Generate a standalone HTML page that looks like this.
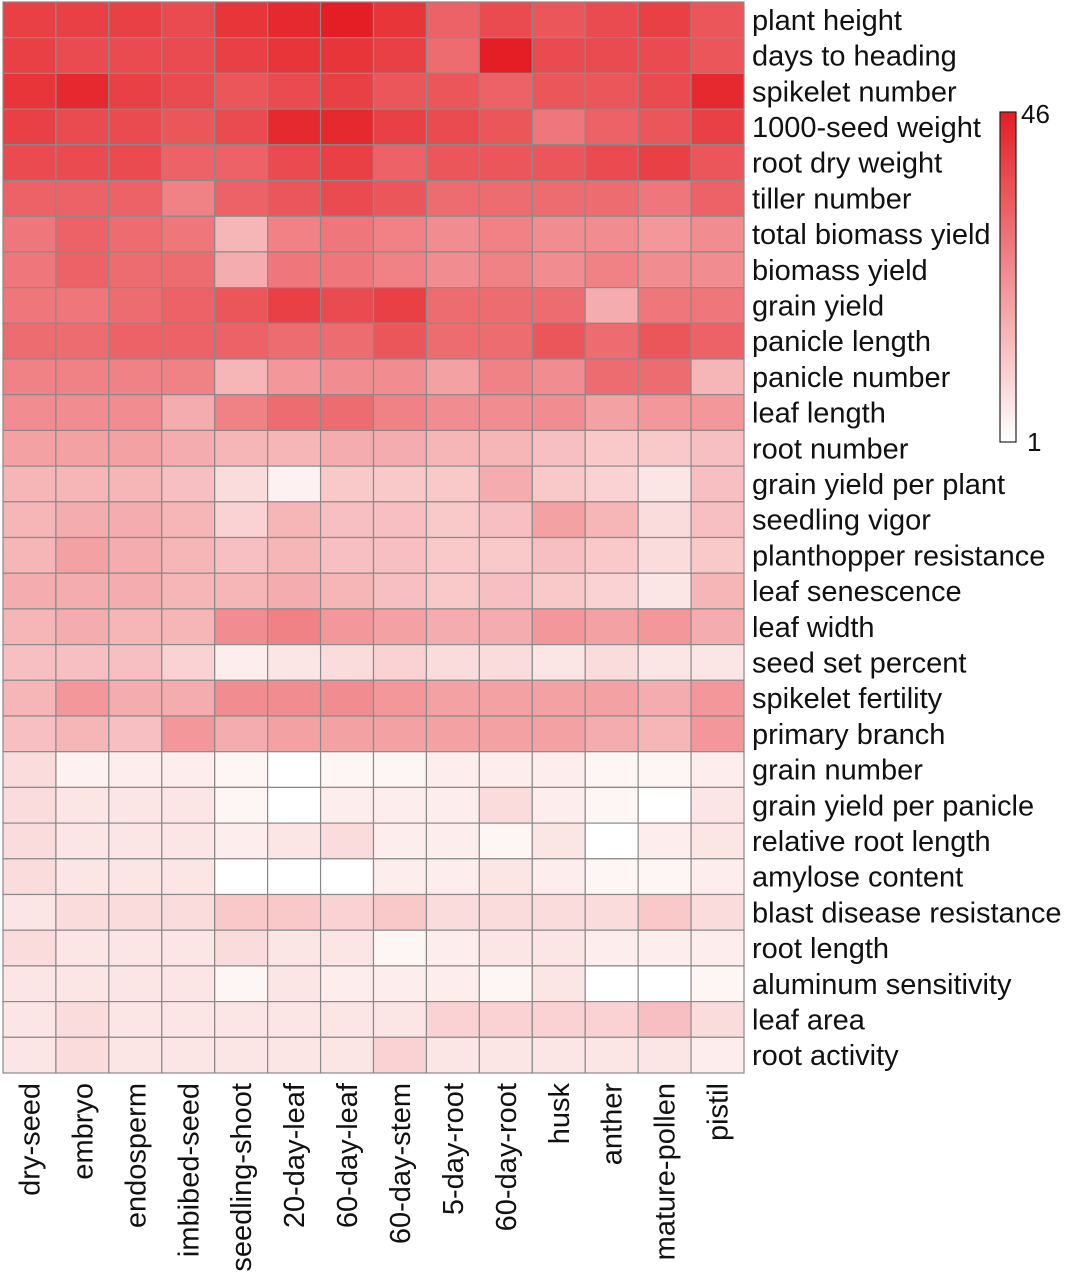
<!DOCTYPE html>
<html><head><meta charset="utf-8"><style>
html,body{margin:0;padding:0;background:#fff}
svg{display:block;font-family:"Liberation Sans",Arial,sans-serif}
</style></head><body>
<svg id="chart" width="1073" height="1280" viewBox="0 0 1073 1280" xmlns="http://www.w3.org/2000/svg">
<defs><linearGradient id="cb" x1="0" y1="1" x2="0" y2="0"><stop offset="0" stop-color="#ffffff"/><stop offset="1" stop-color="#e41e24"/></linearGradient></defs>
<g id="cells"></g>
<g id="rowlabels"></g>
<g id="collabels"></g>
<g>
<rect x="1000" y="112" width="16" height="330" fill="url(#cb)" stroke="#222" stroke-width="1.2"/>
<text x="1021" y="123" font-size="26" fill="#111">46</text>
<text x="1027" y="451" font-size="26" fill="#111">1</text>
</g>
</svg>
<script>
const columns=["dry-seed","embryo","endosperm","imbibed-seed","seedling-shoot","20-day-leaf","60-day-leaf","60-day-stem","5-day-root","60-day-root","husk","anther","mature-pollen","pistil"];
const rows=["plant height","days to heading","spikelet number","1000-seed weight","root dry weight","tiller number","total biomass yield","biomass yield","grain yield","panicle length","panicle number","leaf length","root number","grain yield per plant","seedling vigor","planthopper resistance","leaf senescence","leaf width","seed set percent","spikelet fertility","primary branch","grain number","grain yield per panicle","relative root length","amylose content","blast disease resistance","root length","aluminum sensitivity","leaf area","root activity"];
const vmin=1, vmax=46;
const values=[
[40,40,40,38,42,44,46,42,34,38,36,38,40,36],
[40,38,38,38,40,42,42,40,32,46,38,38,38,36],
[42,44,40,38,36,38,40,36,36,34,36,36,38,44],
[40,38,38,36,38,44,44,40,38,36,30,34,36,40],
[38,38,38,34,34,38,40,34,36,36,36,38,40,36],
[34,34,34,28,34,36,38,36,32,32,32,32,30,34],
[30,34,32,30,18,28,30,28,26,28,26,26,24,26],
[30,34,32,32,20,30,30,28,26,28,26,28,26,26],
[30,30,32,34,36,40,38,40,32,32,32,20,30,30],
[32,32,34,34,34,32,32,36,32,32,36,32,36,34],
[28,28,28,28,18,24,26,26,22,28,26,32,32,18],
[26,26,26,20,28,32,32,28,26,26,26,22,24,24],
[22,22,22,20,18,18,20,20,18,18,16,14,14,16],
[18,18,18,16,10,5,14,14,14,20,14,12,8,16],
[18,20,20,18,12,18,16,16,14,16,22,18,10,16],
[18,22,20,18,16,18,16,16,14,14,16,14,10,14],
[20,20,20,18,18,20,18,16,14,16,14,12,8,18],
[18,20,18,18,26,28,24,22,20,20,24,22,24,20],
[16,16,16,12,6,8,10,12,10,10,8,10,8,8],
[18,24,20,20,26,26,26,24,22,22,22,22,20,24],
[16,18,16,24,20,22,22,22,22,22,22,20,18,24],
[10,5,6,6,4,1,4,4,6,6,6,4,4,6],
[10,8,8,8,4,1,6,6,6,10,6,4,1,8],
[10,8,8,8,6,8,10,6,6,4,8,1,6,8],
[10,8,8,8,1,1,1,6,6,8,6,4,4,6],
[8,10,10,10,14,14,12,14,10,10,10,10,14,10],
[10,8,8,8,10,8,8,4,6,8,8,6,6,6],
[8,8,8,8,4,8,6,6,6,4,8,1,1,4],
[8,10,8,8,8,8,8,8,12,12,12,12,16,10],
[8,10,8,8,8,8,8,12,8,8,8,8,8,6]
];
const NS="http://www.w3.org/2000/svg";
const x0=3,x1=744,y0=2,y1=1073;
const cw=(x1-x0)/columns.length, rh=(y1-y0)/rows.length;
const xPos=i=>x0+i*cw, yPos=j=>y0+j*rh;
function color(v){let t=Math.max(0,Math.min(1,(v-vmin)/(vmax-vmin)));t=Math.pow(t,1.15);
const r=Math.round(255+(228-255)*t),g=Math.round(255+(30-255)*t),b=Math.round(255+(36-255)*t);return `rgb(${r},${g},${b})`;}
const cells=document.getElementById('cells');
values.forEach((row,j)=>row.forEach((v,i)=>{
const r=document.createElementNS(NS,'rect');
r.setAttribute('x',xPos(i));r.setAttribute('y',yPos(j));r.setAttribute('width',cw);r.setAttribute('height',rh);
r.setAttribute('fill',color(v));r.setAttribute('stroke','#8a8a8a');r.setAttribute('stroke-width','1.2');


cells.appendChild(r);}));
const rl=document.getElementById('rowlabels');
rows.forEach((name,j)=>{const t=document.createElementNS(NS,'text');
t.setAttribute('x',752);t.setAttribute('y',yPos(j)+rh/2+10);t.setAttribute('font-size','29');t.setAttribute('fill','#111');
t.setAttribute('textLength','');t.removeAttribute('textLength');
t.textContent=name;


rl.appendChild(t);});
const cl=document.getElementById('collabels');
columns.forEach((name,i)=>{const t=document.createElementNS(NS,'text');
const cx=xPos(i)+cw/2+10, cy=1083;
t.setAttribute('x',cx);t.setAttribute('y',cy);t.setAttribute('font-size','29');t.setAttribute('fill','#111');
t.setAttribute('text-anchor','end');t.setAttribute('transform',`rotate(-90 ${cx} ${cy})`);
t.textContent=name;


cl.appendChild(t);});
</script>
</body></html>
